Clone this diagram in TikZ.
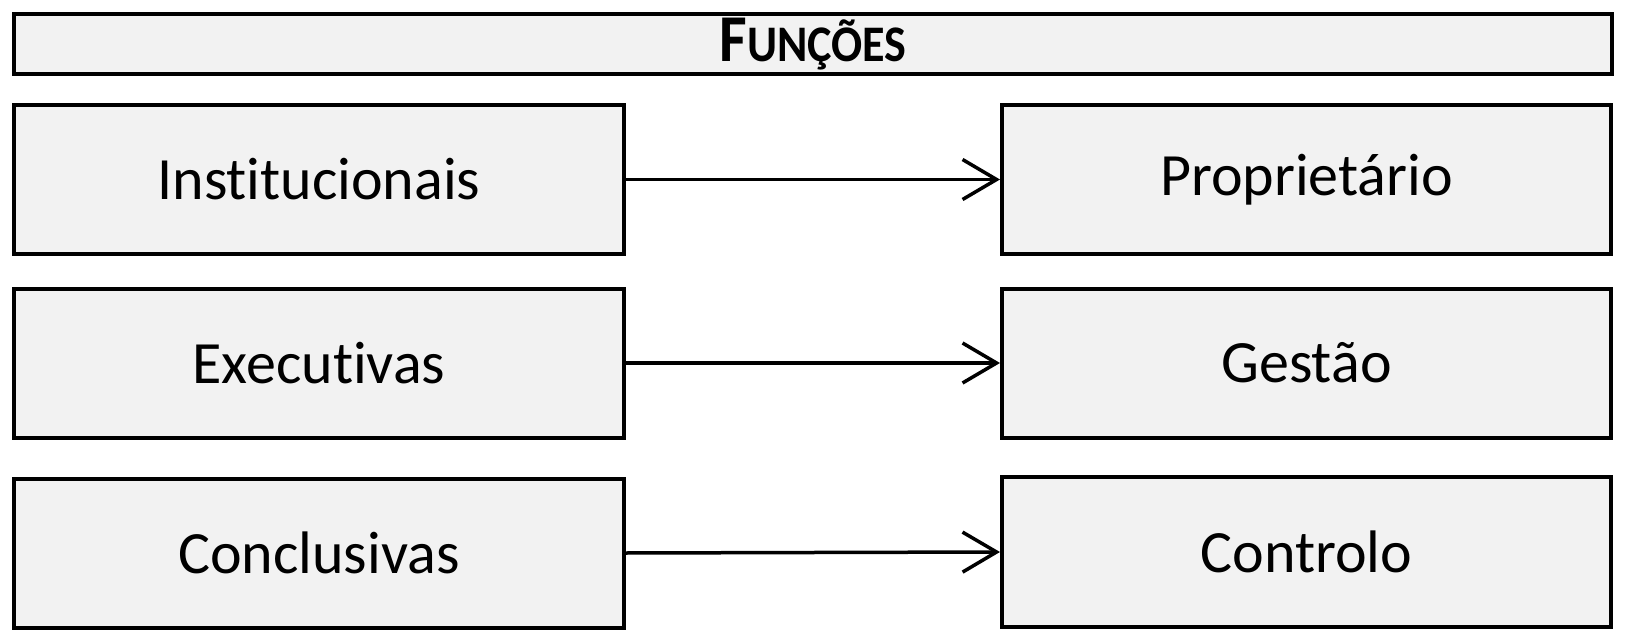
\documentclass[tikz,border=0pt]{standalone}
\usepackage{fontspec}
\setmainfont{Carlito}[Ligatures=NoCommon]
\usetikzlibrary{arrows.meta}
\definecolor{boxfill}{HTML}{F2F2F2}
\tikzset{
  box/.style={draw=black, line width=4pt, fill=boxfill, inner sep=0pt,
    minimum width=610pt, minimum height=149pt,
    font=\fontsize{60}{72}\selectfont},
  link/.style={line width=3.5pt, -{Straight Barb[length=34pt,width=40pt,line width=3.5pt]}}
}
\begin{document}
\begin{tikzpicture}[x=1pt,y=-1pt]
\useasboundingbox (0,0) rectangle (1652,631);
\node[box, minimum width=1598pt, minimum height=60pt] (title) at (813,44)
  {\raisebox{-3pt}{\scalebox{0.97}[1.08]{\bfseries\fontsize{62}{70}\selectfont F\fontsize{47.5}{56}\selectfont UNÇÕES}}};
\node[box] (inst) at (319,179.5) {Institucionais};
\node[box] (exec) at (319,363) {Executivas};
\node[box] (conc) at (319,553) {Conclusivas};
\node[box, minimum width=609pt] (prop) at (1306.5,179.5) {Proprietário};
\node[box, minimum width=609pt] (gest) at (1306.5,363) {Gestão};
\node[box, minimum width=609pt, minimum height=150pt] (ctrl) at (1306.5,552) {Controlo};
\draw[link] (inst.east) -- (prop.west);
\draw[link] (exec.east) -- (gest.west);
\draw[link] (conc.east) -- (ctrl.west);
\end{tikzpicture}
\end{document}
